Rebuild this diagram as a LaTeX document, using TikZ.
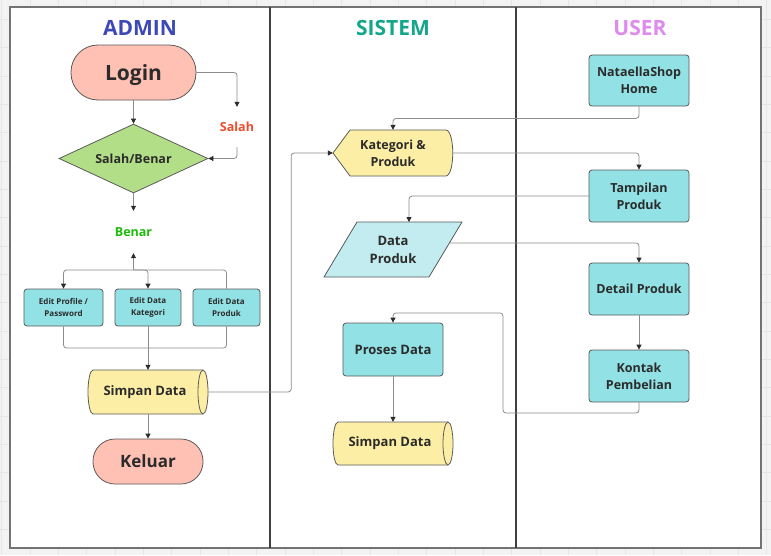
\documentclass[tikz,border=0pt]{standalone}
\usepackage{fontspec}
\setmainfont{Open Sans}
\usetikzlibrary{shapes.geometric,arrows.meta}
\definecolor{ink}{HTML}{2B2B2B}
\definecolor{boxline}{HTML}{5A5A5A}
\definecolor{wire}{HTML}{8C8C8C}
\definecolor{salmon}{HTML}{FFC1B4}
\definecolor{leaf}{HTML}{B3DE88}
\definecolor{aqua}{HTML}{91E1E5}
\definecolor{paleaqua}{HTML}{C2ECEF}
\definecolor{butter}{HTML}{FDEEA5}
\definecolor{admincol}{HTML}{3D49B8}
\definecolor{sistemcol}{HTML}{14A68A}
\definecolor{usercol}{HTML}{DE8AEE}
\definecolor{salahcol}{HTML}{EE4B2B}
\definecolor{benarcol}{HTML}{1DBB0C}
\definecolor{canvas}{HTML}{F3F3F3}
\definecolor{gridcol}{HTML}{E6E6E6}
\tikzset{
  lanetitle/.style={font=\bfseries\fontsize{21}{25}\selectfont},
  terminal/.style={draw=boxline, fill=salmon, line width=0.8pt, text=ink, font=\bfseries\fontsize{21}{25}\selectfont},
  decision/.style={diamond, draw=boxline, fill=leaf, line width=0.8pt, text=ink, inner sep=0pt, aspect=2.16, minimum width=149pt, minimum height=69pt, font=\bfseries\fontsize{12.5}{15}\selectfont},
  proc/.style={draw=boxline, fill=aqua, rounded corners=3pt, line width=0.8pt, minimum width=100pt, minimum height=52pt, align=center, text=ink, font=\bfseries\fontsize{12.5}{17}\selectfont},
  editbox/.style={proc, minimum height=37pt, font=\bfseries\fontsize{8}{12}\selectfont},
  storetext/.style={minimum width=114pt, minimum height=44pt, text=ink, font=\bfseries\fontsize{13}{16}\selectfont},
  storeline/.style={draw=boxline, fill=butter, line width=0.8pt},
  shapetext/.style={align=center, text=ink, font=\bfseries\fontsize{12.5}{17}\selectfont},
  wirelabel/.style={font=\bfseries\fontsize{12.5}{15}\selectfont},
  conn/.style={draw=wire, line width=0.8pt, rounded corners=3pt, -{Triangle[length=5pt,width=5pt,color=ink]}},
  plain/.style={draw=wire, line width=0.8pt, rounded corners=3pt},
}
% drum: centre x, centre y, half width, half height
\newcommand\storedrum[4]{%
  \draw[storeline] ({#1-#3+5},{#2-#4}) -- ({#1+#3-5},{#2-#4})
    arc[start angle=-90, end angle=90, x radius=5, y radius=#4]
    -- ({#1-#3+5},{#2+#4})
    arc[start angle=90, end angle=270, x radius=5, y radius=#4] -- cycle;
  \draw[storeline, fill=none] ({#1+#3-5},{#2-#4})
    arc[start angle=-90, end angle=-270, x radius=5, y radius=#4];}
\begin{document}
\begin{tikzpicture}[x=1pt,y=-1pt]
  \useasboundingbox (0,0) rectangle (771,555);
  \fill[canvas] (0,0) rectangle (771,555);
  \foreach \gx in {0,...,27} \draw[gridcol, line width=0.6pt] (1.7+28.33*\gx,0) -- (1.7+28.33*\gx,555);
  \foreach \gy in {0,...,20} \draw[gridcol, line width=0.6pt] (0,28.33*\gy-9) -- (771,28.33*\gy-9);
  \draw[fill=white, draw=black!55, line width=1.2pt] (10,7) rectangle (761,548);
  \draw[black!75, line width=1.2pt] (270,7) -- (270,548);
  \draw[black!75, line width=1.2pt] (516,7) -- (516,548);

  \node[lanetitle, text=admincol] (tadmin) at (140,28) {ADMIN};
  \node[lanetitle, text=sistemcol] (tsistem) at (393,28) {SISTEM};
  \node[lanetitle, text=usercol] (tuser) at (640,28) {USER};

  \node[terminal, rounded corners=27pt, minimum width=125pt, minimum height=55pt, text height=15pt, text depth=0pt] (login) at (133.5,72.5) {Login};
  \node[decision] (dec) at (133.5,158.5) {Salah/Benar};
  \node[wirelabel, text=salahcol, minimum height=40pt] (salah) at (237,127) {Salah};
  \node[wirelabel, text=benarcol, minimum height=42pt] (benar) at (133.5,232) {Benar};
  \node[editbox, minimum width=79pt] (ep) at (63.5,307.5) {Edit Profile /\\Password};
  \node[editbox, minimum width=66pt] (ek) at (148,307.5) {Edit Data\\Kategori};
  \node[editbox, minimum width=67pt] (epr) at (226.5,307.5) {Edit Data\\Produk};
  \storedrum{148}{392}{60}{22}
  \node[storetext] (simp1) at (145,392) {Simpan Data};
  \node[terminal, rounded corners=22pt, minimum width=110pt, minimum height=45pt, font=\bfseries\fontsize{17}{20}\selectfont] (kel) at (148,461.5) {Keluar};

  \draw[draw=boxline, fill=butter, line width=0.8pt] (333,153) -- (350,130) -- (446,130) .. controls (455,131) and (455,175) .. (446,176) -- (350,176) -- cycle;
  \node[shapetext, minimum width=120pt, minimum height=46pt] (kat) at (393,153) {Kategori \&\\Produk};
  \draw[draw=boxline, fill=paleaqua, line width=0.8pt] (357,222) -- (462,222) -- (429,277) -- (324,277) -- cycle;
  \node[shapetext, font=\bfseries\fontsize{13}{18}\selectfont] (dat) at (393,250) {Data\\Produk};
  \coordinate (dattop) at (409,222);
  \coordinate (datright) at (450,243);
  \node[proc, minimum height=53pt, font=\bfseries\fontsize{13}{17}\selectfont] (pro) at (393,349.5) {Proses Data};
  \storedrum{393}{443.5}{60}{21.5}
  \node[storetext, minimum height=43pt] (simp2) at (390,443.5) {Simpan Data};

  \node[proc, minimum height=51pt] (home) at (639,80.5) {NataellaShop\\Home};
  \node[proc] (tamp) at (639,196) {Tampilan\\Produk};
  \node[proc] (det) at (639,289) {Detail Produk};
  \node[proc] (kon) at (639,376) {Kontak\\Pembelian};

  \coordinate (jtop) at (133.5,270);
  \coordinate (jbot) at (148,348);

  \draw[conn] (login.south) -- (dec.north);
  \draw[conn] (login.east) -| (salah.north);
  \draw[conn] (salah.south) |- (dec.east);
  \draw[conn] (dec.south) -- (benar.north);
  \draw[conn] (jtop) -- (benar.south);
  \draw[conn] (jtop) -| (ep.north);
  \draw[conn] (jtop) -| (ek.north);
  \draw[plain] (jtop) -| (epr.north);
  \draw[plain] (ep.south) |- (jbot);
  \draw[plain] (epr.south) |- (jbot);
  \draw[conn] (ek.south) -- (ek.south |- simp1.north);
  \draw[conn] (kel.north |- simp1.south) -- (kel.north);
  \draw[conn] (simp1.east) ++(6,0) -- ++(83,0) |- (kat.west);
  \draw[conn] (home.south) -- ++(0,12) -| (kat.north);
  \draw[conn] (kat.east) -| (tamp.north);
  \draw[conn] (tamp.west) -| (dattop);
  \draw[conn] (datright) -| (det.north);
  \draw[conn] (det.south) -- (kon.north);
  \draw[conn] (kon.south) |- (503,413) -- (503,313) -| (pro.north);
  \draw[conn] (pro.south) -- (pro.south |- simp2.north);
\end{tikzpicture}
\end{document}
